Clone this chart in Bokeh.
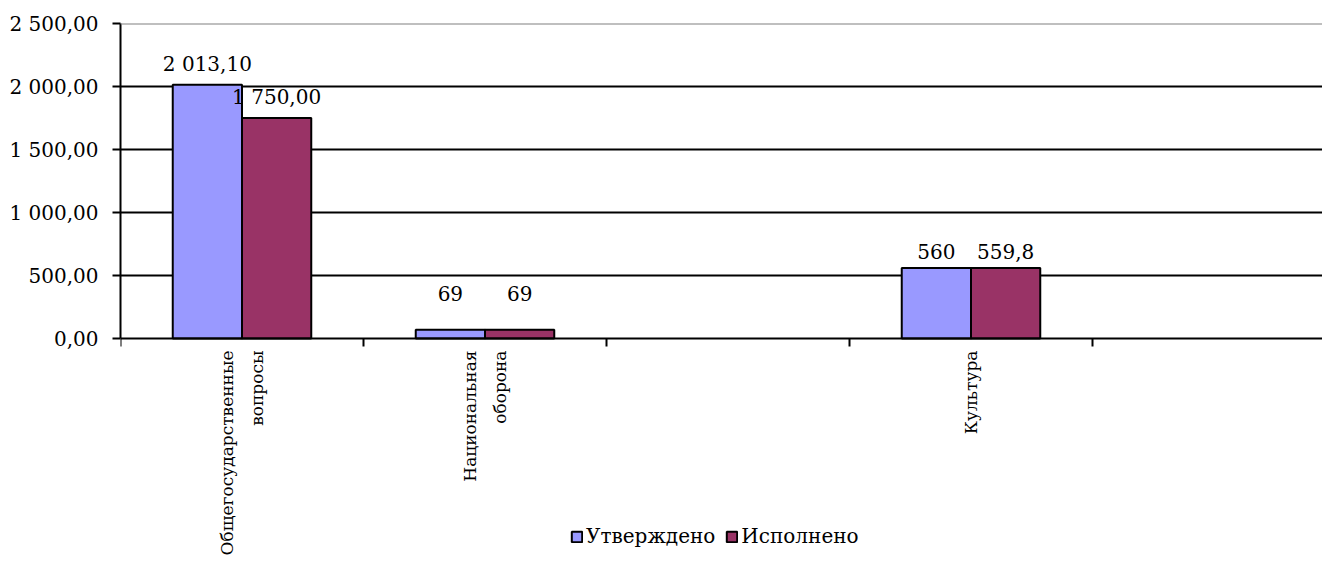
import math
from bokeh.plotting import figure
from bokeh.models import ColumnDataSource, FixedTicker, Legend, LegendItem, Span
from bokeh.core.properties import value
from bokeh.embed import file_html
from bokeh.resources import INLINE

# ---- data ----
categories = ["Общегосударственные\nвопросы", "Национальная\nоборона", "", "Культура", ""]
approved = [2013.10, 69.0, None, 560.0, None]
executed = [1750.00, 69.0, None, 559.8, None]
approved_labels = ["2 013,10", "69", "", "560", ""]
executed_labels = ["1 750,00", "69", "", "559,8", ""]
series_names = ["Утверждено", "Исполнено"]
series_colors = ["#9999FF", "#993366"]
y_ticks = [0, 500, 1000, 1500, 2000, 2500]
y_tick_labels = ["0,00", "500,00", "1 000,00", "1 500,00", "2 000,00", "2 500,00"]

FONT = "DejaVu Serif"
FS = "20px"
CAT_FS = "17px"
BAR_W = 0.285
MIN_LABEL_Y = 230  # keep small-value labels clear of the axis

# layout (pixels)
LEFT, TOP = 120, 23
WIDTH, HEIGHT = 1322, 570
PLOT_H = 315          # pixel height of 0..2500
SLOT_PX = 243         # pixel width of one category slot
frame_h = HEIGHT - TOP
scale = PLOT_H / 2500.0
y_min = -(frame_h - PLOT_H) / scale
TICK_LEN = 8 / scale

p = figure(width=WIDTH, height=HEIGHT, output_backend="svg", toolbar_location=None,
           x_range=(0, (WIDTH - LEFT) / SLOT_PX), y_range=(y_min, 2500),
           min_border_left=LEFT, min_border_right=0, min_border_top=TOP,
           min_border_bottom=0)
p.outline_line_color = None
p.background_fill_color = "white"
p.border_fill_color = "white"
p.xaxis.visible = False

renderers = []
for k, (vals, labs) in enumerate([(approved, approved_labels), (executed, executed_labels)]):
    idx = [i for i, v in enumerate(vals) if v is not None]
    xs = [i + 0.5 + (k - 0.5) * BAR_W for i in idx]
    ys = [vals[i] for i in idx]
    src = ColumnDataSource(dict(x=xs, top=ys,
                                ly=[max(v, MIN_LABEL_Y) for v in ys],
                                lab=[labs[i] for i in idx]))
    r = p.vbar(x="x", top="top", width=BAR_W, bottom=0, source=src,
               fill_color=series_colors[k], line_color="black", line_width=2)
    renderers.append(r)
    p.text(x="x", y="ly", text="lab", source=src, text_align="center",
           text_baseline="bottom", y_offset=-9, text_font=value(FONT),
           text_font_size=FS, text_color="black")

# gridlines
p.xgrid.visible = False
p.ygrid.ticker = FixedTicker(ticks=y_ticks[1:-1])
p.ygrid.grid_line_color = "black"
p.ygrid.grid_line_width = 2
p.add_layout(Span(location=2500, dimension="width", line_color="#808080", line_width=2))
p.add_layout(Span(location=0, dimension="width", line_color="black", line_width=2))

# category axis ticks and labels
bounds = list(range(len(categories) + 1))
p.segment(x0=bounds, y0=[0] * len(bounds), x1=bounds, y1=[-TICK_LEN] * len(bounds),
          line_color="black", line_width=2)
centers = [i + 0.5 for i in range(len(categories))]
p.text(x=centers, y=[0] * len(centers), text=categories, angle=math.pi / 2,
       text_align="right", text_baseline="middle", y_offset=12,
       text_font=value(FONT), text_font_size=CAT_FS, text_color="black",
       text_line_height=1.5)

# y axis
p.yaxis.bounds = (0, 2500)
p.yaxis.ticker = FixedTicker(ticks=y_ticks)
p.yaxis.major_label_overrides = {t: l for t, l in zip(y_ticks, y_tick_labels)}
p.yaxis.axis_line_color = "black"
p.yaxis.axis_line_width = 2
p.yaxis.major_tick_line_width = 2
p.yaxis.major_tick_in = 0
p.yaxis.major_tick_out = 8
p.yaxis.minor_tick_line_color = None
p.yaxis.major_label_standoff = 14
p.yaxis.major_label_text_font = FONT
p.yaxis.major_label_text_font_size = FS
p.yaxis.major_label_text_color = "black"

legend = Legend(items=[LegendItem(label=n, renderers=[r]) for n, r in zip(series_names, renderers)],
                orientation="horizontal", location=(450, 22),
                glyph_width=13, glyph_height=13, label_standoff=3, spacing=10,
                padding=0, margin=0, border_line_color=None, background_fill_alpha=0,
                label_text_font=FONT, label_text_font_size=FS, label_text_color="black")
p.add_layout(legend, "center")

open("out.html", "w").write(file_html(p, INLINE))
